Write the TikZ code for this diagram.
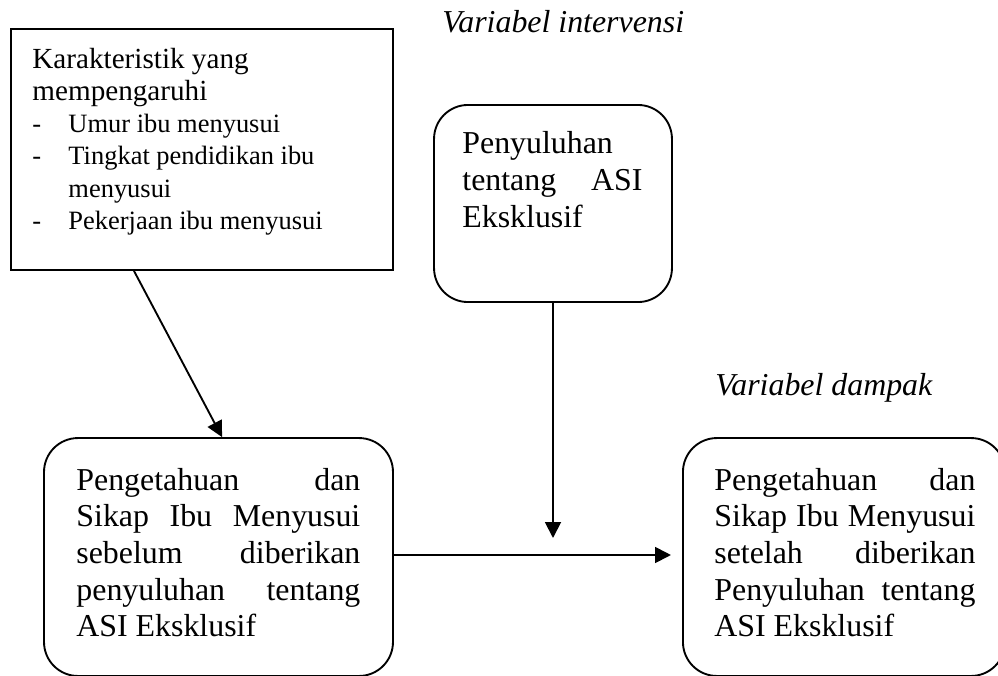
\documentclass[tikz,border=0pt]{standalone}
\usepackage{fontspec}
\setmainfont{Liberation Serif}
\usetikzlibrary{arrows.meta}
\tikzset{
  boxsq/.style={draw, line width=0.9pt, inner sep=0pt},
  boxrd/.style={draw, line width=0.9pt, inner sep=0pt, rounded corners=16.3pt},
  txt/.style={anchor=base west, inner sep=0pt},
  conn/.style={line width=0.9pt, -{Triangle[length=7.6pt,width=7.6pt]}},
  lbl/.style={anchor=base west, inner sep=0pt, font=\fontsize{15.3}{17.6}\selectfont\itshape}
}
\newcommand{\bigtxt}{\fontsize{15.3}{17.6}\selectfont}
\newcommand{\headtxt}{\fontsize{14}{15.5}\selectfont}
\newcommand{\smtxt}{\fontsize{12.7}{15.5}\selectfont}
\begin{document}
\begin{tikzpicture}[x=0.48pt, y=-0.48pt]
\useasboundingbox (0,0) rectangle (998,675);
% boxes
\node[boxsq, minimum width=183.4pt, minimum height=115.7pt] (A) at (202,149.5) {};
\node[boxrd, minimum width=114.2pt, minimum height=94.6pt] (B) at (553,203.5) {};
\node[boxrd, minimum width=167.5pt, minimum height=114.2pt] (C) at (218.5,557) {};
\node[boxrd, minimum width=154.6pt, minimum height=114.2pt] (D) at (844,557) {};
% texts
\node[txt] (tA) at (32,68) {\parbox[t]{175pt}{\headtxt
Karakteristik yang\\
mempengaruhi\\
\smtxt
\makebox[17.3pt][l]{-}Umur ibu menyusui\\
\makebox[17.3pt][l]{-}Tingkat pendidikan ibu\\
\makebox[17.3pt][l]{}menyusui\\
\makebox[17.3pt][l]{-}Pekerjaan ibu menyusui}};
\node[txt] (tB) at (462,153) {\parbox[t]{86.4pt}{\bigtxt\baselineskip=17.8pt
Penyuluhan\\
\makebox[86.4pt][s]{tentang ASI}\\
Eksklusif}};
\node[txt] (tC) at (76,490) {\parbox[t]{136.3pt}{\bigtxt
\makebox[136.3pt][s]{Pengetahuan dan}\\
\makebox[136.3pt][s]{Sikap Ibu Menyusui}\\
\makebox[136.3pt][s]{sebelum diberikan}\\
\makebox[136.3pt][s]{penyuluhan tentang}\\
ASI Eksklusif}};
\node[txt] (tD) at (714,490) {\parbox[t]{125.3pt}{\bigtxt
\makebox[125.3pt][s]{Pengetahuan dan}\\
\makebox[125.3pt][s]{Sikap Ibu Menyusui}\\
\makebox[125.3pt][s]{setelah diberikan}\\
\makebox[125.3pt][s]{Penyuluhan tentang}\\
ASI Eksklusif}};
% labels
\node[lbl] (L1) at (442,32) {Variabel intervensi};
\node[lbl] (L2) at (715,395) {Variabel dampak};
% connectors
\coordinate (m) at (553,538);
\draw[conn] ([xshift=124*0.48pt]A.south west) -- ([xshift=179*0.48pt]C.north west);
\draw[conn] (B.south) -- (m);
\draw[conn, shorten >=5.3pt] ([yshift=0.96pt]C.east) -- ([yshift=0.96pt]D.west);
\end{tikzpicture}
\end{document}
